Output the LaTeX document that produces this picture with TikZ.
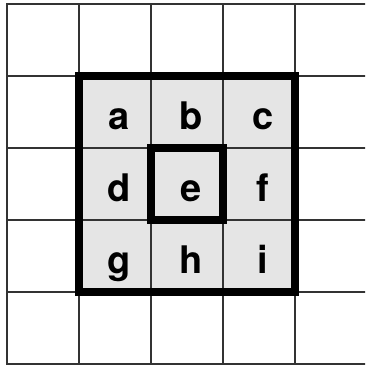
\documentclass[tikz,border=0pt]{standalone}
\usepackage{fontspec}
\setmainfont{TeX Gyre Heros}
\begin{document}
\begin{tikzpicture}[x=1pt,y=-1pt,
  gridline/.style={line width=2pt, draw=black!80, line cap=rect},
  thickbox/.style={line width=7.5pt, draw=black, line join=miter},
  letter/.style={font=\fontsize{38}{40}\selectfont\bfseries, inner sep=0pt, anchor=base}]
\useasboundingbox (0,0) rectangle (365,369);
\clip (0,0) rectangle (365,369);
\fill[gray!20] (79,76) rectangle (295,292);
\foreach \i in {0,...,5} {
  \draw[gridline] (7+72*\i,4) -- (7+72*\i,364);
  \draw[gridline] (7,4+72*\i) -- (367,4+72*\i);
}
\draw[thickbox] (79,76) rectangle (295,292);
\draw[thickbox] (151,148) rectangle (223,220);
\foreach \l/\c/\r in {a/1/1,b/2/1,c/3/1,d/1/2,e/2/2,f/3/2,g/1/3,h/2/3,i/3/3} {
  \node[letter] (\l) at (7+72*\c+36+4, 4+72*\r+36+17) {\l};
}
\end{tikzpicture}
\end{document}
